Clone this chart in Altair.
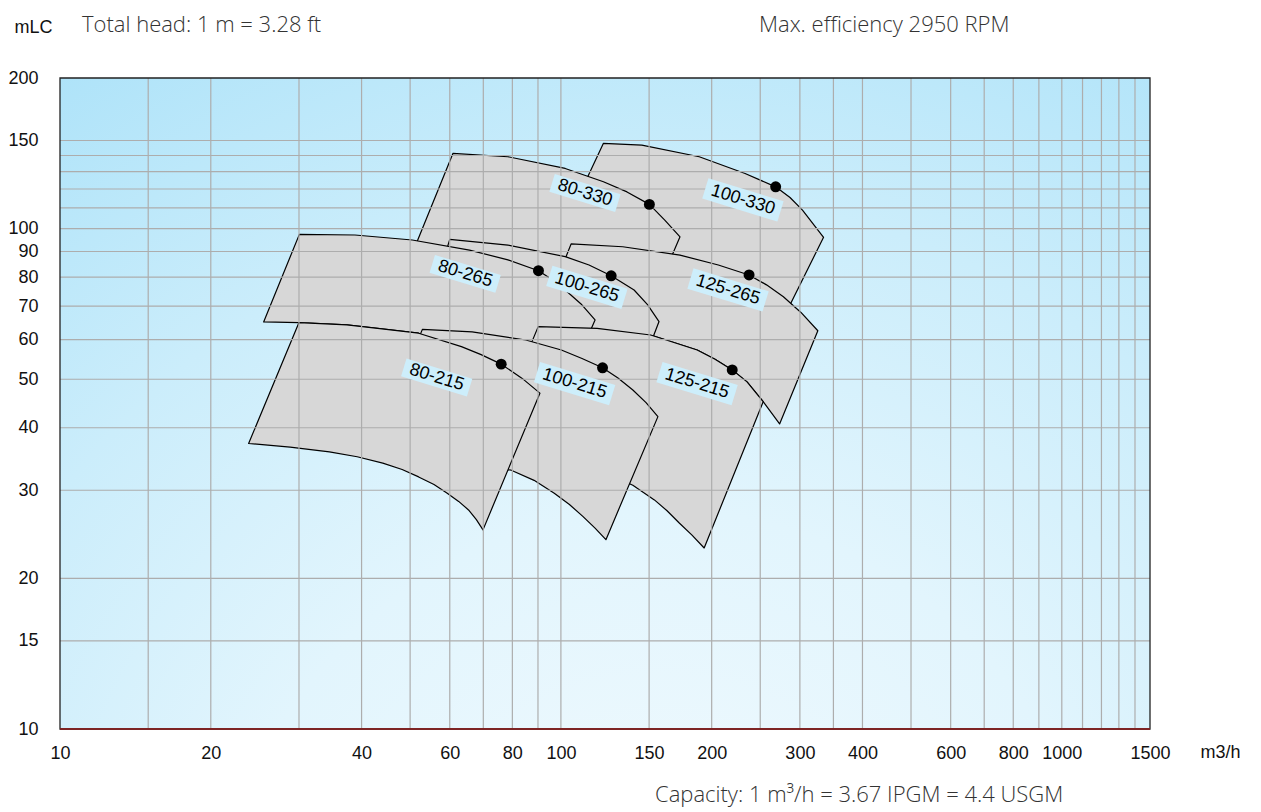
import altair as alt
import pandas as pd

# ---------------- axes ----------------
X_DOMAIN = [10, 1500]
Y_DOMAIN = [10, 200]
X_TICKS = [10, 20, 40, 60, 80, 100, 150, 200, 300, 400, 600, 800, 1000, 1500]
Y_TICKS = [10, 15, 20, 30, 40, 50, 60, 70, 80, 90, 100, 150, 200]
X_GRID = [15, 20, 30, 40, 50, 60, 70, 80, 90, 100, 150, 200, 250, 300, 350, 400,
          500, 600, 700, 800, 900, 1000, 1100, 1200, 1300, 1400]
Y_GRID = [15, 20, 30, 40, 50, 60, 70, 80, 90, 100, 110, 120, 130, 140, 150]

# ---------------- pump envelopes (flow m3/h, head m) ----------------
# outline: top curve left->right, right edge, bottom curve right->left
Q_80_215 = [30.0, 37.4, 43.5, 52.0, 63.3, 69.3, 76.0, 83.7, 90.8,
            69.9, 67.8, 65.4, 62.5, 59.3, 55.8, 52.0, 48.2, 44.1, 39.2, 34.5, 28.8, 23.8]
H_80_215 = [64.9, 64.2, 63.1, 61.8, 58.1, 56.0, 53.6, 50.2, 46.9,
            25.0, 26.2, 27.4, 28.5, 29.6, 30.8, 31.9, 33.0, 34.0, 35.0, 35.8, 36.6, 37.2]

Q_100_215 = [52.9, 66.5, 85.1, 100.2, 110.2, 121.1, 130.0, 139.2, 147.9, 156.2,
             123.0, 117.0, 110.6, 104.0, 97.0, 88.4, 79.6, 60.6, 42.0]
H_100_215 = [62.9, 62.2, 59.9, 57.2, 55.0, 52.7, 50.3, 47.6, 44.9, 42.1,
             23.9, 25.2, 26.6, 28.1, 29.6, 31.4, 32.9, 34.2, 35.8]

Q_125_215 = [90.1, 118.1, 151.1, 187.1, 203.1, 219.8, 235.3, 253.4,
             193.2, 182.7, 172.3, 162.9, 153.7, 139.2, 119.7, 95.1, 71.5]
H_125_215 = [63.7, 63.2, 61.3, 57.2, 54.8, 52.2, 49.4, 45.1,
             23.0, 24.4, 25.8, 27.3, 28.7, 30.7, 32.9, 35.3, 36.6]

Q_80_265 = [30.05, 38.8, 50.5, 65.7, 78.4, 90.2, 96.0, 102.0, 109.7, 117.0, 99.6, 90.8, 83.7, 76.0, 69.3,
            63.3, 52.0, 43.5, 37.4, 30.0, 25.5]
H_80_265 = [97.4, 97.1, 94.9, 90.6, 86.6, 82.4, 79.1, 75.4, 70.7, 65.7, 45.4, 46.9, 50.2, 53.6, 56.0,
            58.1, 61.8, 63.1, 64.2, 64.9, 65.1]

Q_100_265 = [60.0, 78.4, 102.0, 113.8, 126.0, 140.0, 148.9, 157.0, 139.2, 130.0, 121.1, 110.2, 100.2, 85.1, 66.5, 52.9]
H_100_265 = [95.2, 92.7, 87.9, 84.6, 80.5, 75.4, 70.5, 65.2, 47.6, 50.3, 52.7, 55.0, 57.2, 59.9, 62.2, 62.9]

Q_125_265 = [104.8, 132.9, 172.9, 206.2, 237.5, 257.3, 278.1, 301.5, 325.8, 273.3, 253.4, 235.3, 219.8,
             203.1, 187.1, 151.1, 118.1, 90.1]
H_125_265 = [93.2, 92.0, 88.5, 84.6, 80.8, 77.2, 73.1, 68.0, 62.5, 40.7, 45.1, 49.4, 52.2,
             54.8, 57.2, 61.3, 63.2, 63.7]

Q_80_330 = [60.9, 78.4, 102.0, 121.6, 135.5, 150.2, 161.2, 172.9, 143.9, 119.7, 101.9, 90.0, 78.4, 65.8, 51.4]
H_80_330 = [141.4, 139.2, 131.9, 124.1, 118.4, 111.8, 104.0, 96.3, 62.7, 70.4, 74.0, 80.8, 85.0, 89.0, 93.2]

Q_100_330 = [121.6, 145.1, 188.9, 233.2, 268.4, 286.7, 303.6, 334.5, 267.6, 227.9, 189.6, 150.6, 119.7, 95.5]
H_100_330 = [148.1, 146.9, 139.2, 128.9, 121.2, 115.4, 108.9, 96.1, 61.3, 70.4, 77.2, 83.4, 87.35, 88.5]

# drawing order: back to front
PUMPS = ["100-330", "80-330", "125-265", "100-265", "80-265", "125-215", "100-215", "80-215"]
OUTLINES = {
    "100-330": (Q_100_330, H_100_330),
    "80-330": (Q_80_330, H_80_330),
    "125-265": (Q_125_265, H_125_265),
    "100-265": (Q_100_265, H_100_265),
    "80-265": (Q_80_265, H_80_265),
    "125-215": (Q_125_215, H_125_215),
    "100-215": (Q_100_215, H_100_215),
    "80-215": (Q_80_215, H_80_215),
}

# best efficiency points
BEP_PUMP = ["80-215", "100-215", "125-215", "80-265", "100-265", "125-265", "80-330", "100-330"]
BEP_Q = [76.0, 121.1, 219.8, 90.2, 126.0, 237.5, 150.2, 268.4]
BEP_H = [53.6, 52.7, 52.2, 82.4, 80.5, 80.8, 111.8, 121.2]

# model labels
LABEL_TEXT = ["80-330", "100-330", "80-265", "100-265", "125-265", "80-215", "100-215", "125-215"]
LABEL_Q = [111.7, 230.9, 64.4, 112.7, 215.6, 56.5, 106.5, 187.0]
LABEL_H = [117.8, 114.1, 81.2, 76.3, 75.4, 50.4, 49.0, 49.0]

HEADER_LEFT = "Total head: 1 m = 3.28 ft"
HEADER_RIGHT = "Max. efficiency 2950 RPM"
FOOTER = "Capacity: 1 m\u00b3/h = 3.67 IPGM = 4.4 USGM"

# ---------------- chart ----------------
W, H = 1090, 651
xs = alt.Scale(type="log", domain=X_DOMAIN)
ys = alt.Scale(type="log", domain=Y_DOMAIN)
AX_FONT = "Liberation Sans"

x_axis = alt.Axis(values=X_TICKS, format="d", grid=False, ticks=False, domain=False,
                  labelFont=AX_FONT, labelFontSize=18, labelFontWeight="normal", labelColor="#111",
                  labelPadding=15, labelFlush=False, labelOverlap=False,
                  title="m3/h", titleFont=AX_FONT, titleFontSize=18, titleFontWeight="normal",
                  titleColor="#111", titleX=1160, titleY=23, titleAlign="center",
                  titleBaseline="middle", titleAngle=0)
y_axis = alt.Axis(values=Y_TICKS, format="d", grid=False, ticks=False, domain=False,
                  labelFont=AX_FONT, labelFontSize=18, labelFontWeight="normal", labelColor="#111",
                  labelPadding=22, labelOverlap=False,
                  title="mLC", titleFont=AX_FONT, titleFontSize=18, titleFontWeight="normal",
                  titleColor="#111", titleX=-27, titleY=-51, titleAlign="center",
                  titleBaseline="middle", titleAngle=0)


def X(field):
    return alt.X(field, type="quantitative", scale=xs, axis=x_axis)


def Y(field):
    return alt.Y(field, type="quantitative", scale=ys, axis=y_axis)


frame = pd.DataFrame({"x": [X_DOMAIN[0]], "x2": [X_DOMAIN[1]], "y": [Y_DOMAIN[0]], "y2": [Y_DOMAIN[1]]})

bg_fill = {
    "gradient": "radial",
    "x1": 0.55, "y1": 1.0, "r1": 0,
    "x2": 0.55, "y2": 1.0, "r2": 1.15,
    "stops": [
        {"offset": 0.0, "color": "#f2fafe"},
        {"offset": 0.35, "color": "#e2f5fd"},
        {"offset": 0.6, "color": "#cbedfb"},
        {"offset": 0.85, "color": "#aee3f9"},
        {"offset": 1.0, "color": "#9bd9f7"},
    ],
}

background = alt.Chart(frame).mark_rect(fill=bg_fill).encode(
    x=X("x"), x2="x2", y=Y("y"), y2="y2"
)

layers = [background]

for name in PUMPS:
    q, h = OUTLINES[name]
    df = pd.DataFrame({"q": q, "h": h, "i": list(range(len(q)))})
    layers.append(
        alt.Chart(df).mark_line(interpolate="linear-closed", fill="#d7d7d7", stroke="#000",
                                strokeWidth=1.2, strokeJoin="round").encode(
            x=X("q"), y=Y("h"), order="i:Q")
    )

grid_v = alt.Chart(pd.DataFrame({"v": X_GRID})).mark_rule(color="#adadad", strokeWidth=1.2).encode(x=X("v"))
grid_h = alt.Chart(pd.DataFrame({"v": Y_GRID})).mark_rule(color="#adadad", strokeWidth=1.2).encode(y=Y("v"))
layers += [grid_v, grid_h]

border = alt.Chart(frame).mark_rect(filled=False, stroke="#222", strokeWidth=1.3).encode(
    x=X("x"), x2="x2", y=Y("y"), y2="y2")
base_line = alt.Chart(frame).mark_rule(color="#7d2424", strokeWidth=2).encode(y=Y("y"))
layers += [border, base_line]

bep = pd.DataFrame({"pump": BEP_PUMP, "q": BEP_Q, "h": BEP_H})
dots = alt.Chart(bep).mark_circle(size=120, color="#000", opacity=1).encode(x=X("q"), y=Y("h"))
layers.append(dots)

lab = pd.DataFrame({"label": LABEL_TEXT, "q": LABEL_Q, "h": LABEL_H})
box_path = "M-1,-0.27L1,-0.27L1,0.27L-1,0.27Z"
boxes = alt.Chart(lab).transform_calculate(
    bs="pow(length(datum.label) * 9.8 + 10, 2)"
).mark_point(shape=box_path, filled=True, color="#cdeefb", opacity=1, strokeWidth=0, angle=17).encode(
    x=X("q"), y=Y("h"), size=alt.Size("bs:Q", scale=None, legend=None))
texts = alt.Chart(lab).mark_text(angle=17, font=AX_FONT, fontSize=18, color="#000",
                                 align="center", baseline="middle").encode(
    x=X("q"), y=Y("h"), text="label:N")
layers += [boxes, texts]

HEAD_FONT = "Open Sans"
head_l = alt.Chart(pd.DataFrame({"t": [HEADER_LEFT]})).mark_text(
    font=HEAD_FONT, fontSize=22, fontWeight=300, color="#333", align="left", baseline="alphabetic"
).encode(x=alt.value(22), y=alt.value(-46), text="t:N")
head_r = alt.Chart(pd.DataFrame({"t": [HEADER_RIGHT]})).mark_text(
    font=HEAD_FONT, fontSize=22, fontWeight=300, color="#333", align="left", baseline="alphabetic"
).encode(x=alt.value(699), y=alt.value(-46), text="t:N")
foot = alt.Chart(pd.DataFrame({"t": [FOOTER]})).mark_text(
    font=HEAD_FONT, fontSize=22, fontWeight=300, color="#333", align="left", baseline="alphabetic"
).encode(x=alt.value(595), y=alt.value(724), text="t:N")
layers += [head_l, head_r, foot]

chart = alt.layer(*layers).properties(
    width=W, height=H,
    autosize=alt.AutoSizeParams(type="none"),
    padding={"left": 52, "top": 70, "right": 100, "bottom": 79},
).configure_view(strokeWidth=0)

chart.save("out.html", embed_options={"renderer": "svg", "actions": False})
